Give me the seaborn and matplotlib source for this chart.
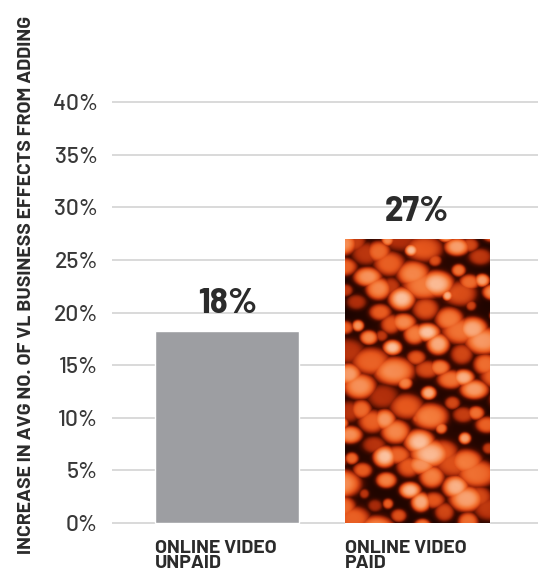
import numpy as np
import matplotlib
matplotlib.use("Agg")
import matplotlib.pyplot as plt
from matplotlib.colors import LinearSegmentedColormap
import pandas as pd
import seaborn as sns

# data
categories = ["ONLINE VIDEO\nUNPAID", "ONLINE VIDEO\nPAID"]
values = [18.2, 27.0]
value_labels = ["18%", "27%"]
yticks = [0, 5, 10, 15, 20, 25, 30, 35, 40]
ylabel = "INCREASE IN AVG NO. OF VL BUSINESS EFFECTS FROM ADDING"

bar_width = 0.76
grey = "#9d9ea2"
text_dark = "#2b2b2b"

df = pd.DataFrame({"channel": categories, "increase": values})

sns.set_theme(style="white")
plt.rcParams["font.family"] = ["Barlow Semi Condensed", "DejaVu Sans"]

fig = plt.figure(figsize=(5.38, 5.75), dpi=100)
ax = fig.add_axes([0.208, 0.0812, 0.792, 0.7597])

sns.barplot(data=df, x="channel", y="increase", hue="channel",
            palette=[grey, "#b8401a"], width=bar_width, legend=False,
            saturation=1, ax=ax, zorder=3)

# bokeh-like photo texture for the paid bar (deterministic R2 sequence blobs)
paid = ax.patches[1]
h, w = 290, 150
yy, xx = np.mgrid[0:h, 0:w]
glow = np.zeros((h, w))
soft = np.zeros((h, w))
a1, a2 = 0.7548776662, 0.5698402910
for i in range(1, 120):
    cx = ((0.5 + i * a1) % 1) * (w + 16) - 8
    cy = ((0.5 + i * a2) % 1) * (h + 16) - 8
    r = 5 + 9 * ((i * 0.6180339887) % 1)
    a = 0.3 + 0.65 * ((i * 0.4142135624) % 1)
    sx = 1.0 + 0.5 * ((i * 0.2360679775) % 1)
    d2 = (((xx - cx) / sx) ** 2 + (yy - cy) ** 2) / r ** 2
    glow = np.maximum(glow, a * np.exp(-d2 ** 2))
    soft += 0.10 * np.exp(-d2 / 3)
img = np.clip(0.85 * glow + 0.3 * soft, 0, 1)
cmap = LinearSegmentedColormap.from_list(
    "glow", ["#140300", "#4a0c00", "#ad2c0a", "#e5561c", "#f47c3c", "#f9ab7e", "#fff3e8"])
im = ax.imshow(img, cmap=cmap, vmin=0, vmax=1, aspect="auto", zorder=4,
               extent=(1 - bar_width / 2, 1 + bar_width / 2, 0, values[1]),
               interpolation="bilinear")
im.set_clip_path(paid)
ax.set_xlim(-0.608, 1.637)
ax.set_ylim(-0.5, 41)

# gridlines
for t in yticks:
    ax.axhline(t, color="#d0d0d0", lw=1.1, zorder=1)

ax.set_yticks(yticks)
ax.set_yticklabels([f"{t}%" for t in yticks], fontsize=16.5, fontweight=500,
                   color="#383838", family=["Barlow", "DejaVu Sans"])
ax.tick_params(axis="y", length=0, pad=10)
ax.set_xticks([])
ax.set_xlabel("")
ax.set_ylabel("")
for s in ax.spines.values():
    s.set_visible(False)

# value labels above bars
for i, (v, lab) in enumerate(zip(values, value_labels)):
    ax.annotate(lab, (i, v), xytext=(0, 13), textcoords="offset points",
                ha="center", va="baseline", fontsize=26.5, fontweight="bold",
                color=text_dark)

# category labels, left aligned with bar edges
for i, cat in enumerate(categories):
    ax.annotate(cat, (i - bar_width / 2, 0), xytext=(0, -12),
                textcoords="offset points", ha="left", va="top",
                fontsize=14, fontweight="bold", color=text_dark,
                linespacing=0.88, family=["Barlow", "DejaVu Sans"])

fig.text(27 / 538, 1 - 285 / 575, ylabel, rotation=90, ha="center",
         va="center", fontsize=14, fontweight="bold", color=text_dark,
         family=["Barlow", "DejaVu Sans"])

fig.savefig("out.png", dpi=100)
